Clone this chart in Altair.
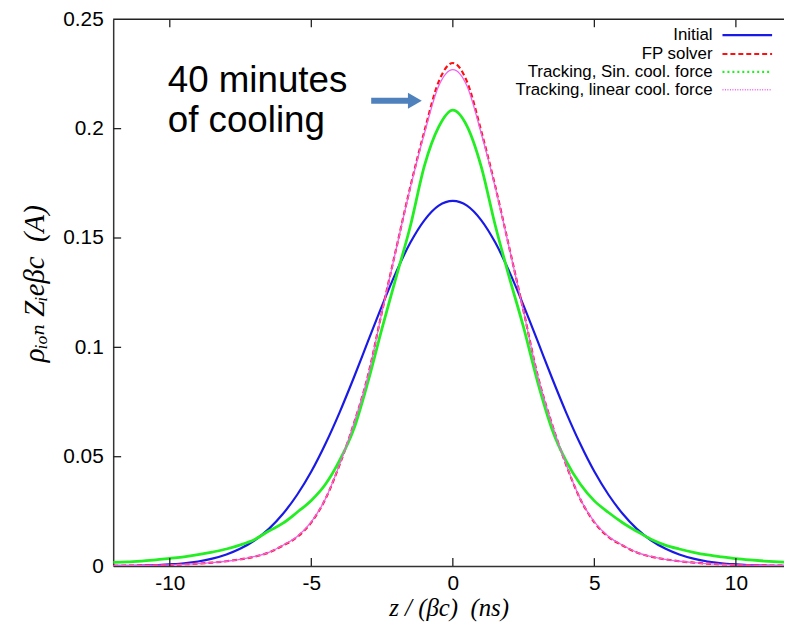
import altair as alt
import pandas as pd

# ---- data ----
z = [-12.0, -11.5, -11.0, -10.5, -10.0, -9.5, -9.0, -8.5, -8.0, -7.5, -7.0, -6.5,
     -6.0, -5.5, -5.0, -4.5, -4.0, -3.5, -3.0, -2.5, -2.0, -1.5, -1.0, -0.5,
     0.0, 0.5, 1.0, 1.5, 2.0, 2.5, 3.0, 3.5, 4.0, 4.5, 5.0, 5.5,
     6.0, 6.5, 7.0, 7.5, 8.0, 8.5, 9.0, 9.5, 10.0, 10.5, 11.0, 11.5, 12.0]

initial = [0.0001, 0.0001, 0.0002, 0.0004, 0.0008, 0.0013, 0.0021, 0.0034, 0.0053, 0.0080, 0.0118, 0.0170,
           0.0239, 0.0326, 0.0432, 0.0559, 0.0703, 0.0861, 0.1027, 0.1191, 0.1345, 0.1479, 0.1582, 0.1648,
           0.1670, 0.1648, 0.1582, 0.1479, 0.1345, 0.1191, 0.1027, 0.0861, 0.0703, 0.0559, 0.0432, 0.0326,
           0.0239, 0.0170, 0.0118, 0.0080, 0.0053, 0.0034, 0.0021, 0.0013, 0.0008, 0.0004, 0.0002, 0.0001, 0.0001]

fp_solver = [0.0001, 0.0002, 0.0003, 0.0004, 0.0005, 0.0008, 0.0011, 0.0016, 0.0022, 0.0031, 0.0043, 0.0062,
             0.0094, 0.0133, 0.0200, 0.0307, 0.0464, 0.0650, 0.0870, 0.1165, 0.1452, 0.1735, 0.1990, 0.2215,
             0.2300, 0.2215, 0.1990, 0.1735, 0.1452, 0.1165, 0.0870, 0.0650, 0.0464, 0.0307, 0.0200, 0.0133,
             0.0094, 0.0062, 0.0043, 0.0031, 0.0022, 0.0016, 0.0011, 0.0008, 0.0005, 0.0004, 0.0003, 0.0002, 0.0001]

track_sin = [0.0017, 0.0019, 0.0023, 0.0028, 0.0035, 0.0042, 0.0052, 0.0064, 0.0078, 0.0097, 0.0122, 0.0160,
             0.0196, 0.0246, 0.0300, 0.0374, 0.0483, 0.0626, 0.0842, 0.1088, 0.1322, 0.1555, 0.1832, 0.2008,
             0.2085, 0.2012, 0.1828, 0.1557, 0.1318, 0.1091, 0.0840, 0.0627, 0.0481, 0.0375, 0.0298, 0.0245,
             0.0198, 0.0159, 0.0123, 0.0096, 0.0078, 0.0063, 0.0051, 0.0042, 0.0034, 0.0028, 0.0023, 0.0019, 0.0016]

track_lin = [0.0001, 0.0002, 0.0003, 0.0004, 0.0005, 0.0008, 0.0011, 0.0016, 0.0022, 0.0031, 0.0044, 0.0063,
             0.0095, 0.0135, 0.0202, 0.0308, 0.0465, 0.0650, 0.0868, 0.1163, 0.1450, 0.1730, 0.1980, 0.2195,
             0.2270, 0.2195, 0.1980, 0.1730, 0.1450, 0.1163, 0.0868, 0.0650, 0.0465, 0.0308, 0.0202, 0.0135,
             0.0095, 0.0063, 0.0044, 0.0031, 0.0022, 0.0016, 0.0011, 0.0008, 0.0005, 0.0004, 0.0003, 0.0002, 0.0001]

series_names = ["Initial", "FP solver", "Tracking, Sin. cool. force", "Tracking, linear cool. force"]
x_ticks = [-10, -5, 0, 5, 10]
y_ticks = [0.0, 0.05, 0.10, 0.15, 0.20, 0.25]

# ---- build table ----
rows = []
for name, vals in zip(series_names, [initial, fp_solver, track_sin, track_lin]):
    for zi, v in zip(z, vals):
        rows.append({"z": zi, "rho": v, "series": name})
df = pd.DataFrame(rows)

W, H = 676, 551
xscale = alt.Scale(domain=[-12, 11.7], nice=False, zero=False)
yscale = alt.Scale(domain=[0, 0.25], nice=False, zero=False)

NB = "\u00a0"
xaxis = alt.Axis(values=x_ticks, labelExpr="'' + datum.value", tickSize=0, labelPadding=7,
                 labelFont="Liberation Sans", labelFontSize=21, labelColor="black",
                 domainColor="#333333", domainWidth=1.5, grid=False,
                 title="z / (βc)" + NB + NB + "(ns)", titleFont="Liberation Serif",
                 titleFontStyle="italic", titleFontWeight="normal", titleFontSize=25,
                 titleColor="black", titleY=50, titleBaseline="alphabetic")
yaxis = alt.Axis(values=y_ticks, labelExpr="format(datum.value, '.2~f')", tickSize=0, labelPadding=10,
                 labelFont="Liberation Sans", labelFontSize=21, labelColor="black",
                 domainColor="#333333", domainWidth=1.5, grid=False,
                 title="ρᵢₒₙ Zᵢeβc" + NB + NB + "(A)", titleFont="Liberation Serif, DejaVu Serif",
                 titleFontStyle="italic", titleFontWeight="normal", titleFontSize=29,
                 titleColor="black", titleX=-79, titleY=266, titleAngle=270,
                 titleAlign="center", titleBaseline="middle")

styles = {
    "Initial": dict(color="#1a1ae6", strokeWidth=2.2),
    "FP solver": dict(color="#ff1010", strokeWidth=2.2, strokeDash=[5, 3]),
    "Tracking, Sin. cool. force": dict(color="#22ee22", strokeWidth=2.8),
    "Tracking, linear cool. force": dict(color="#f060f0", strokeWidth=1.3),
}
legend_dash = {
    "Initial": None,
    "FP solver": [5, 3],
    "Tracking, Sin. cool. force": [2, 3],
    "Tracking, linear cool. force": [1, 1.5],
}

layers = []
for name in series_names:
    layers.append(
        alt.Chart(df).transform_filter(alt.datum.series == name)
        .mark_line(interpolate="monotone", clip=True, **styles[name])
        .encode(x=alt.X("z:Q", scale=xscale, axis=xaxis),
                y=alt.Y("rho:Q", scale=yscale, axis=yaxis))
    )

xt = pd.DataFrame({"t": x_ticks})
yt = pd.DataFrame({"t": y_ticks[1:-1]})
tick_color = "#222222"
layers.append(alt.Chart(xt).mark_rule(color=tick_color, strokeWidth=1.3).encode(
    x=alt.X("t:Q", scale=xscale, axis=xaxis), y=alt.value(H), y2=alt.value(H - 8)))
layers.append(alt.Chart(xt).mark_rule(color=tick_color, strokeWidth=1.3).encode(
    x=alt.X("t:Q", scale=xscale, axis=xaxis), y=alt.value(0), y2=alt.value(8)))
layers.append(alt.Chart(yt).mark_rule(color=tick_color, strokeWidth=1.3).encode(
    y=alt.Y("t:Q", scale=yscale, axis=yaxis), x=alt.value(0), x2=alt.value(8)))

one = pd.DataFrame({"a": [0]})
# top frame
layers.append(alt.Chart(one).mark_rule(color="#222222", strokeWidth=1.5).encode(
    x=alt.value(0), x2=alt.value(W), y=alt.value(0)))

# legend (label left, sample right, gnuplot style)
leg_y = [16, 35, 53, 71]
for name, yy in zip(series_names, leg_y):
    layers.append(alt.Chart(one).mark_text(text=name, align="right", baseline="middle",
                                           font="Liberation Sans", fontSize=17, color="black").encode(
        x=alt.value(604), y=alt.value(yy)))
    st = dict(styles[name])
    st.pop("strokeDash", None)
    if name == "Tracking, Sin. cool. force":
        st["strokeWidth"] = 2.2
    if legend_dash[name]:
        st["strokeDash"] = legend_dash[name]
    layers.append(alt.Chart(one).mark_rule(**st).encode(
        x=alt.value(614), x2=alt.value(664), y=alt.value(yy)))

# annotation
layers.append(alt.Chart(one).mark_text(text=["40 minutes", "of cooling"], align="left",
                                       baseline="alphabetic", lineHeight=41,
                                       font="Liberation Sans", fontSize=37, color="black").encode(
    x=alt.value(55), y=alt.value(73)))
layers.append(alt.Chart(one).mark_rule(color="#4f81bd", strokeWidth=6).encode(
    x=alt.value(260), x2=alt.value(299), y=alt.value(82)))
layers.append(alt.Chart(one).mark_point(shape="triangle-right", filled=True, size=260,
                                        color="#4f81bd", opacity=1).encode(
    x=alt.value(304), y=alt.value(82)))

chart = alt.layer(*layers).properties(
    width=W, height=H,
    padding={"left": 106, "top": 9, "right": 0, "bottom": 55},
    autosize=alt.AutoSizeParams(type="none"),
    background="white",
).configure_view(stroke=None)

chart.save("out.html", embed_options={"renderer": "svg", "actions": False})
